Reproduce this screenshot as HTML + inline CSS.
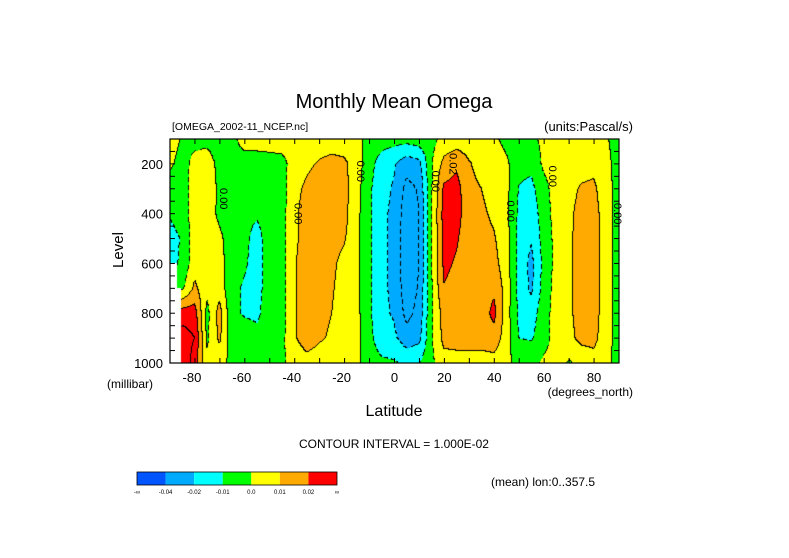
<!DOCTYPE html>
<html><head><meta charset="utf-8">
<style>
body{margin:0;background:#fff;width:789px;height:558px;overflow:hidden;font-family:"Liberation Sans",sans-serif;}
#wrap{position:relative;width:789px;height:558px;}
canvas{position:absolute;left:170px;top:139px;}
svg{position:absolute;left:0;top:0;}
text{font-family:"Liberation Sans",sans-serif;fill:#000;}
</style></head><body>
<div id="wrap">
<canvas id="cv" width="449" height="224"></canvas>
<svg id="sv" width="789" height="558"></svg>
</div>
<script>
// latitude columns -90..90 step 5, levels in mb, values in units of 0.01 Pa/s
const lats = [-90,-85,-80,-75,-70,-65,-60,-55,-50,-45,-40,-35,-30,-25,-20,-15,-10,-5,0,5,10,15,20,25,30,35,40,45,50,55,60,65,70,75,80,85,90];
const levels = [100,200,300,400,500,600,700,800,900,1000];
const omega = [
/*-90*/[0.5,0.2,-0.5,-0.9,-1.4,-1.4,-0.5,2,3,3.5],
/*-85*/[-0.1,-0.4,-0.5,-0.5,-0.9,-0.8,-0.2,2.5,3.5,4],
/*-80*/[-0.3,0.3,0.5,0.5,0.5,0.6,1.2,2.5,3,2.5],
/*-75*/[-0.3,0.5,0.6,0.5,0.5,0.5,0.3,-0.3,-0.2,0.3],
/*-70*/[-0.5,-0.3,-0.2,-0.2,0.2,0.4,0.6,1.4,1.2,0.4],
/*-65*/[-0.3,-0.5,-0.5,-0.5,-0.5,-0.6,-0.8,-0.8,-0.6,-0.3],
/*-60*/[0.5,-0.5,-0.6,-0.8,-0.8,-0.9,-1.1,-1.1,-0.5,-0.3],
/*-55*/[0.5,-0.5,-0.7,-0.9,-1.3,-1.3,-1.3,-1.2,-0.7,-0.4],
/*-50*/[0.5,-0.4,-0.6,-0.6,-0.6,-0.6,-0.6,-0.5,-0.5,-0.3],
/*-45*/[0.5,-0.3,-0.4,-0.4,-0.4,-0.4,-0.4,-0.4,-0.3,-0.2],
/*-40*/[0.4,0.4,0.7,0.8,0.8,0.9,0.9,0.9,0.9,0.5],
/*-35*/[0.4,0.8,1.2,1.4,1.4,1.5,1.5,1.5,1.4,0.7],
/*-30*/[0.5,1.1,1.5,1.6,1.6,1.5,1.3,1.2,1.1,0.6],
/*-25*/[0.5,1.3,1.5,1.5,1.4,1.2,1.1,1.0,0.9,0.5],
/*-20*/[0.4,1.2,1.3,1.3,1.1,0.7,0.6,0.5,0.4,0.3],
/*-15*/[0.3,0.5,0.4,0.3,0.3,0.3,0.3,0.3,0.3,0.2],
/*-10*/[-0.3,-0.6,-0.8,-0.8,-0.8,-0.8,-0.8,-0.8,-0.7,-0.5],
/*-5*/[-0.5,-1.5,-1.7,-1.8,-1.8,-1.8,-1.8,-1.8,-1.6,-0.8],
/*0*/[-0.6,-1.9,-2.1,-2.2,-2.2,-2.2,-2.2,-2.1,-1.8,-0.9],
/*5*/[-0.6,-2.6,-3.3,-3.6,-3.7,-3.7,-3.6,-3.3,-2.6,-1.2],
/*10*/[-0.4,-2.3,-2.9,-3.0,-3.0,-3.0,-2.9,-2.7,-2.3,-1.0],
/*15*/[-0.3,-0.1,-0.1,-0.1,-0.1,-0.1,-0.1,-0.1,-0.1,-0.2],
/*20*/[0.3,1.3,2.2,2.4,2.3,2.2,1.95,1.4,1.3,0.6],
/*25*/[0.4,1.8,2.4,2.4,2.1,1.9,1.7,1.5,1.4,0.6],
/*30*/[0.4,1.1,1.3,1.4,1.5,1.5,1.5,1.5,1.4,0.6],
/*35*/[0.2,0.6,1.0,1.2,1.4,1.4,1.4,1.4,1.4,0.6],
/*40*/[0.2,0.5,0.6,0.8,1.1,1.3,1.8,2.3,1.6,0.6],
/*45*/[-0.3,0.2,0.3,0.3,0.4,0.5,0.6,0.5,0.5,0.3],
/*50*/[-0.3,-0.7,-1.05,-1.2,-1.3,-1.3,-1.3,-1.2,-1.0,-0.4],
/*55*/[-0.2,-0.7,-1.3,-1.6,-1.9,-2.3,-2.2,-1.5,-1.1,-0.3],
/*60*/[0.2,0.2,-0.3,-0.5,-0.6,-0.7,-0.6,-0.4,-0.4,0.2],
/*65*/[0.3,0.4,0.4,0.4,0.3,0.3,0.4,0.4,0.4,0.4],
/*70*/[0.4,0.5,0.7,0.8,0.8,0.8,0.8,0.8,0.7,-0.1],
/*75*/[0.3,0.6,1.1,1.3,1.4,1.4,1.4,1.4,1.3,0.3],
/*80*/[0.3,0.7,1.2,1.4,1.4,1.4,1.4,1.4,1.3,0.6],
/*85*/[0.1,0.3,0.4,0.5,0.5,0.5,0.5,0.5,0.4,0.3],
/*90*/[-0.4,-0.4,-0.4,-0.4,-0.4,-0.4,-0.4,-0.4,-0.4,-0.4]
];
const bandEdges = [-4,-2,-1,0,1,2];
const bandColors = ["#0055ff","#00aaff","#00ffff","#00ff00","#ffff00","#ffaa00","#ff0000"];
const barLabels = ["-0.04","-0.02","-0.01","0.0","0.01","0.02"];
const xTicks = [-80,-60,-40,-20,0,20,40,60,80];
const yTicks = [200,400,600,800,1000];

const X0=170,X1=619,Y0=139,Y1=363;
const xs = lat => X0+(lat+90)/180*(X1-X0);
const ys = p => Y0+(p-100)/900*(Y1-Y0);
const latAt = px => -90+px/(X1-X0)*180;
const levAt = py => 100+py/(Y1-Y0)*900;

function val(lat,lev){
  let fi=(lat-lats[0])/5; let i=Math.min(lats.length-2,Math.max(0,Math.floor(fi))); let tx=fi-i;
  let j=0; while(j<levels.length-2 && lev>levels[j+1]) j++;
  let ty=(lev-levels[j])/(levels[j+1]-levels[j]);
  const a=omega[i][j],b=omega[i+1][j],c=omega[i][j+1],d=omega[i+1][j+1];
  return (a*(1-tx)+b*tx)*(1-ty)+(c*(1-tx)+d*tx)*ty;
}
function band(v){let k=0;while(k<bandEdges.length&&v>=bandEdges[k])k++;return k;}
function hex(h){return [parseInt(h.substr(1,2),16),parseInt(h.substr(3,2),16),parseInt(h.substr(5,2),16)];}

const cv=document.getElementById('cv'),ctx=cv.getContext('2d');
const W=cv.width,H=cv.height;
const V=new Float32Array(W*H);
for(let y=0;y<H;y++)for(let x=0;x<W;x++)V[y*W+x]=val(latAt(x+0.5),levAt(y+0.5));
const img=ctx.createImageData(W,H);
const cols=bandColors.map(hex);
for(let y=0;y<H;y++)for(let x=0;x<W;x++){
  const i=y*W+x,v=V[i];let c=cols[band(v)];
  const l=Math.floor(v);
  let edge=false;
  if(x+1<W&&Math.floor(V[i+1])!==l)edge=true;
  if(y+1<H&&Math.floor(V[i+W])!==l)edge=true;
  if(edge){ if(v>=0 || ((x+y)%8)<5) c=[0,0,0]; }
  const lat=latAt(x+0.5),lev=levAt(y+0.5);
  if((lat<-87.2&&lev>600)||(lat<-85.6&&lev>700)) c=[255,255,255];
  img.data[i*4]=c[0];img.data[i*4+1]=c[1];img.data[i*4+2]=c[2];img.data[i*4+3]=255;
}
ctx.putImageData(img,0,0);

const sv=document.getElementById('sv');const NS='http://www.w3.org/2000/svg';
function mk(tag,attrs,txt){const e=document.createElementNS(NS,tag);for(const k in attrs)e.setAttribute(k,attrs[k]);if(txt!==undefined)e.textContent=txt;sv.appendChild(e);return e;}
let e;
e=mk('rect',{x:X0,y:Y0,width:X1-X0,height:Y1-Y0,fill:'none',stroke:'#000','stroke-width':1.2});


for(let lat=-90;lat<=90;lat+=10){
  const x=xs(lat);
  e=mk('line',{x1:x,x2:x,y1:Y1,y2:Y1-5,stroke:'#000'});
  
  
  e=mk('line',{x1:x,x2:x,y1:Y0,y2:Y0+5,stroke:'#000'});
  
  
}
for(let p=100;p<=1000;p+=50){
  const y=ys(p);
  e=mk('line',{x1:X0,x2:X0+5,y1:y,y2:y,stroke:'#000'});
  
  
  e=mk('line',{x1:X1,x2:X1-5,y1:y,y2:y,stroke:'#000'});
  
  
}
xTicks.forEach(t=>{
  e=mk('text',{x:xs(t)+(t<0?-3:0),y:382,'font-size':13,'text-anchor':'middle'},String(t));
  
  
});
yTicks.forEach(t=>{
  e=mk('text',{x:163,y:ys(t)+5,'font-size':13,'text-anchor':'end'},String(t));
  
  
});
[[-70,340],[-40,400],[-15,230],[15,270],[22,200],[45,390],[62,250],[88,400]].forEach(a=>{
  const x=xs(a[0]),y=ys(a[1]);
  e=mk('text',{x:x,y:y,'font-size':11,'text-anchor':'middle',transform:`rotate(90 ${x} ${y})`,fill:'#000'},a[1]===200?'0.02':'0.00');
  
  
});
const CB0=137,CBW=200/7;
bandColors.forEach((c,i)=>{
  e=mk('rect',{x:CB0+i*CBW,y:472,width:CBW,height:13,fill:c});
  
  
});
e=mk('rect',{x:CB0,y:472,width:200,height:13,fill:'none',stroke:'#000','stroke-width':0.8});


barLabels.forEach((l,i)=>{
  e=mk('text',{x:CB0+(i+1)*CBW,y:494,'font-size':6,'text-anchor':'middle'},l);
  
  
});
</script>
<svg width="789" height="558" style="position:absolute;left:0;top:0;pointer-events:none">
<text x="394" y="108" font-size="20" text-anchor="middle">Monthly Mean Omega</text>
<text x="172" y="130" font-size="10.5">[OMEGA_2002-11_NCEP.nc]</text>
<text x="633" y="131" font-size="13" text-anchor="end">(units:Pascal/s)</text>
<text x="123" y="250" font-size="15" text-anchor="middle" transform="rotate(-90 123 250)">Level</text>
<text x="107" y="388" font-size="12">(millibar)</text>
<text x="633" y="396" font-size="12" text-anchor="end">(degrees_north)</text>
<text x="394" y="416" font-size="16" text-anchor="middle">Latitude</text>
<text x="394" y="448" font-size="12" text-anchor="middle">CONTOUR INTERVAL = 1.000E-02</text>
<text x="491" y="486" font-size="12">(mean) lon:0..357.5</text>
<text x="137" y="494" font-size="6" text-anchor="middle">-∞</text>
<text x="337" y="494" font-size="6" text-anchor="middle">∞</text>
</svg>
</body></html>
